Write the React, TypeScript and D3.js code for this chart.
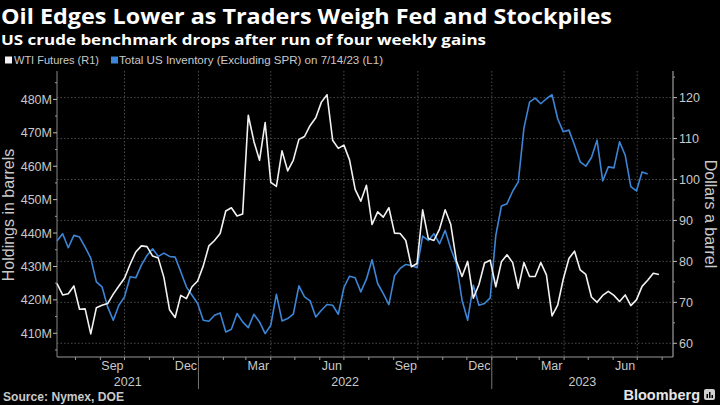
import React from "react";
import * as d3 from "d3";

const W = 720;
const H = 405;

// Weekly series (Friday closes / EIA weekly), first date below
const wtiStart = "2021-07-09";
const wtiValues = [
  // 2021
  74.6, 71.8, 72.1, 74.0, 68.3, 68.4, 62.3, 68.7, 69.3, 69.7, 72.0, 74.0, 75.9,
  79.3, 82.3, 83.8, 83.6, 81.3, 80.8, 76.1, 68.2, 66.3, 71.7, 70.9, 73.8, 75.2,
  // 2022
  78.9, 83.8, 85.1, 86.8, 92.3, 93.1, 91.1, 91.6, 115.7, 109.3, 104.7, 113.9,
  99.3, 98.3, 107.0, 102.1, 104.7, 109.8, 110.5, 113.2, 115.1, 118.9, 120.7,
  109.6, 107.6, 108.4, 104.8, 97.6, 94.7, 98.6, 89.0, 92.1, 90.8, 93.1, 86.9,
  86.8, 85.1, 78.7, 79.5, 92.6, 85.6, 85.1, 87.9, 92.6, 89.0, 80.1, 76.3, 80.0,
  71.0, 74.3, 79.6, 80.3,
  // 2023
  73.8, 79.9, 81.6, 79.7, 73.4, 79.7, 76.3, 76.3, 79.7, 76.7, 66.7, 69.3, 75.7,
  80.7, 82.5, 77.9, 76.8, 71.3, 70.0, 71.7, 72.7, 71.7, 70.2, 71.8, 69.2, 70.6,
  73.9, 75.4, 77.1, 76.8,
];

const invStart = "2021-07-09";
const invValues = [
  // 2021
  437.6, 439.8, 435.6, 439.3, 438.8, 435.8, 432.5, 425.4, 423.9, 417.9, 413.9,
  418.4, 420.9, 426.9, 426.6, 430.4, 433.3, 435.3, 433.0, 434.0, 433.0, 432.8,
  428.4, 423.9, 421.4, 418.9,
  // 2022
  413.9, 413.6, 415.4, 416.1, 410.4, 411.2, 415.9, 413.4, 411.7, 415.7, 413.4,
  409.9, 412.4, 421.7, 413.7, 414.4, 415.7, 424.2, 420.9, 419.7, 414.9, 416.9,
  418.6, 418.4, 415.7, 423.7, 427.1, 426.6, 422.4, 426.2, 432.0, 424.9, 421.9,
  418.6, 427.2, 429.4, 430.6, 430.3, 429.6, 439.1, 437.8, 439.8, 436.8, 440.8,
  435.3, 430.8, 419.9, 413.9, 424.4, 418.4, 418.9, 420.6,
  // 2023
  439.3, 448.1, 448.8, 452.5, 455.3, 471.4, 479.2, 480.4, 478.7, 480.2, 481.4,
  474.2, 470.3, 470.8, 466.3, 461.3, 460.0, 462.6, 467.8, 455.6, 459.8, 459.5,
  467.3, 463.3, 453.9, 452.6, 458.3, 457.7,
];

const leftTicks = [410, 420, 430, 440, 450, 460, 470, 480];
const leftMinor = [405, 415, 425, 435, 445, 455, 465, 475, 485];
const rightTicks = [60, 70, 80, 90, 100, 110, 120];
const rightMinor = [65, 75, 85, 95, 105, 115, 125];
const labelMonths = [2, 5, 8, 11]; // Mar, Jun, Sep, Dec
const xDomain = ["2021-07-09", "2023-08-14T12:00"];
const leftDomain = [402.9, 488.5];
const rightDomain = [56.65, 126.5];

const titleText = "Oil Edges Lower as Traders Weigh Fed and Stockpiles";
const subtitleText = "US crude benchmark drops after run of four weekly gains";
const legendWti = "WTI Futures (R1)";
const legendInv = "Total US Inventory (Excluding SPR) on 7/14/23 (L1)";
const leftTitle = "Holdings in barrels";
const rightTitle = "Dollars a barrel";
const sourceText = "Source: Nymex, DOE";

const WHITE = "#f2f2f2";
const BLUE = "#3d85d6";
const AXIS_TXT = "#c9c9c9";
const GRID = "#4a4a4a";
const FONT = "'Liberation Sans', Arial, sans-serif";
const TITLE_FONT = "'Open Sans', 'Liberation Sans', sans-serif";

function weekly(start: string, n: number) {
  const s = new Date(start + "T00:00:00Z");
  return d3.range(n).map((i) => d3.utcDay.offset(s, i * 7));
}

export default function App() {
  const left = 57;
  const right = 673;
  const top = 71;
  const bottom = 357;

  const x = d3
    .scaleUtc()
    .domain(xDomain.map((d) => new Date(d + (d.includes("T") ? "Z" : "T00:00:00Z"))))
    .range([left, right]);
  const yL = d3.scaleLinear().domain(leftDomain).range([bottom, top]);
  const yR = d3.scaleLinear().domain(rightDomain).range([bottom, top]);

  const wtiDates = weekly(wtiStart, wtiValues.length);
  const invDates = weekly(invStart, invValues.length);

  const wtiLine = d3
    .line<number>()
    .x((_, i) => x(wtiDates[i]))
    .y((d) => yR(d));
  const invLine = d3
    .line<number>()
    .x((_, i) => x(invDates[i]))
    .y((d) => yL(d));

  const [d0, d1] = x.domain();
  const months = d3.utcMonth.range(d3.utcMonth.ceil(d0), d1);
  const quarters = months.filter((m) => m.getUTCMonth() % 3 === 0);
  const allMonths = d3.utcMonth.range(d3.utcMonth.floor(d0), d1);
  const labelled = allMonths.filter((m) => labelMonths.includes(m.getUTCMonth()));
  const years = d3.utcYear.range(d3.utcYear.floor(d0), d1);
  const yearStarts = d3.utcYear.range(d3.utcYear.ceil(d0), d1);
  const fmtMonth = d3.utcFormat("%b");
  const fmtYear = d3.utcFormat("%Y");

  return (
    <svg
      width={W}
      height={H}
      style={{ position: "absolute", left: 0, top: 0, background: "#000" }}
      fontFamily={FONT}
    >
      <rect x={0} y={0} width={W} height={H} fill="#000" />
      {/* Titles */}
      <text
        x={1}
        y={23.5}
        fill="#fff"
        fontSize={20.5}
        fontWeight="bold"
        fontFamily={TITLE_FONT}
        textLength={611}
        lengthAdjust="spacingAndGlyphs"
      >
        {titleText}
      </text>
      <text
        x={1}
        y={44.5}
        fill="#fff"
        fontSize={15}
        fontWeight="bold"
        fontFamily={TITLE_FONT}
        textLength={485}
        lengthAdjust="spacingAndGlyphs"
      >
        {subtitleText}
      </text>
      {/* Legend */}
      <rect x={5} y={56.5} width={7} height={7} fill={WHITE} />
      <text x={14} y={64} fill={AXIS_TXT} fontSize={11.5} textLength={85} lengthAdjust="spacingAndGlyphs">
        {legendWti}
      </text>
      <rect x={111} y={56.5} width={7} height={7} fill={BLUE} />
      <text x={119} y={64} fill={AXIS_TXT} fontSize={11.5} textLength={264} lengthAdjust="spacingAndGlyphs">
        {legendInv}
      </text>

      {/* Grid */}
      {rightTicks.map((t) => (
        <line
          key={"hg" + t}
          x1={left}
          x2={right}
          y1={yR(t)}
          y2={yR(t)}
          stroke={GRID}
          strokeDasharray="1.5,2"
        />
      ))}
      {quarters.map((q) => (
        <line
          key={"vg" + q.getTime()}
          x1={x(q)}
          x2={x(q)}
          y1={top}
          y2={bottom}
          stroke={GRID}
          strokeDasharray="1.5,2"
        />
      ))}

      {/* Axes lines */}
      <line x1={left} x2={left} y1={top} y2={bottom} stroke="#888" />
      <line x1={right} x2={right} y1={top} y2={bottom} stroke="#bbb" />
      <line x1={left} x2={right} y1={bottom} y2={bottom} stroke="#999" />

      {/* Left ticks */}
      {leftTicks.map((t) => (
        <g key={"lt" + t}>
          <line x1={left - 4} x2={left} y1={yL(t)} y2={yL(t)} stroke="#bbb" />
          <text
            x={left - 5}
            y={yL(t)}
            dy="0.36em"
            textAnchor="end"
            fill={AXIS_TXT}
            fontSize={12.5}
          >
            {t + "M"}
          </text>
        </g>
      ))}
      {leftMinor.map((t) => (
        <line key={"lm" + t} x1={left - 2} x2={left} y1={yL(t)} y2={yL(t)} stroke="#999" />
      ))}
      {/* Right ticks */}
      {rightTicks.map((t) => (
        <g key={"rt" + t}>
          <line x1={right} x2={right + 4} y1={yR(t)} y2={yR(t)} stroke="#bbb" />
          <text x={right + 6} y={yR(t)} dy="0.36em" fill={AXIS_TXT} fontSize={12.5}>
            {t}
          </text>
        </g>
      ))}
      {rightMinor.map((t) => (
        <line key={"rm" + t} x1={right} x2={right + 2} y1={yR(t)} y2={yR(t)} stroke="#999" />
      ))}

      {/* Bottom ticks */}
      {months.map((m) => (
        <line
          key={"mt" + m.getTime()}
          x1={x(m)}
          x2={x(m)}
          y1={bottom}
          y2={bottom + 3}
          stroke="#999"
        />
      ))}
      {labelled.map((m) => {
        const cx = (x(m) + x(d3.utcMonth.offset(m, 1))) / 2;
        return (
          <text
            key={"ml" + m.getTime()}
            x={cx}
            y={370}
            textAnchor="middle"
            fill={AXIS_TXT}
            fontSize={12.5}
          >
            {fmtMonth(m)}
          </text>
        );
      })}
      {yearStarts.map((ys) => (
        <line
          key={"ys" + ys.getTime()}
          x1={x(ys)}
          x2={x(ys)}
          y1={bottom}
          y2={389}
          stroke="#777"
        />
      ))}
      {years.map((yv) => {
        const a = Math.max(x(yv), left);
        const b = Math.min(x(d3.utcYear.offset(yv, 1)), right);
        return (
          <text
            key={"yl" + yv.getTime()}
            x={(a + b) / 2}
            y={386}
            textAnchor="middle"
            fill={AXIS_TXT}
            fontSize={12.5}
          >
            {fmtYear(yv)}
          </text>
        );
      })}

      {/* Axis titles */}
      <text
        transform={`translate(14,215) rotate(-90)`}
        textAnchor="middle"
        fill={AXIS_TXT}
        fontSize={16}
      >
        {leftTitle}
      </text>
      <text
        transform={`translate(705,214) rotate(90)`}
        textAnchor="middle"
        fill={AXIS_TXT}
        fontSize={16}
      >
        {rightTitle}
      </text>

      {/* Lines */}
      <path d={invLine(invValues) || ""} fill="none" stroke={BLUE} strokeWidth={1.6} strokeLinejoin="round" />
      <path d={wtiLine(wtiValues) || ""} fill="none" stroke={WHITE} strokeWidth={1.6} strokeLinejoin="round" />

      {/* Footer */}
      <text x={3} y={401} fill={AXIS_TXT} fontSize={12} fontWeight="bold" textLength={121} lengthAdjust="spacingAndGlyphs">
        {sourceText}
      </text>
      <text x={700} y={400} textAnchor="end" fill="#e6e6e6" fontSize={14.5} fontWeight="bold">
        Bloomberg
      </text>
      <g transform="translate(704,389)">
        <rect x={0} y={0} width={11} height={11} rx={2} fill="#d0d0d0" />
        <rect x={2.5} y={5} width={1.5} height={4} fill="#000" />
        <rect x={5} y={3} width={1.5} height={6} fill="#000" />
        <rect x={7.5} y={6} width={1.5} height={3} fill="#000" />
      </g>
    </svg>
  );
}
